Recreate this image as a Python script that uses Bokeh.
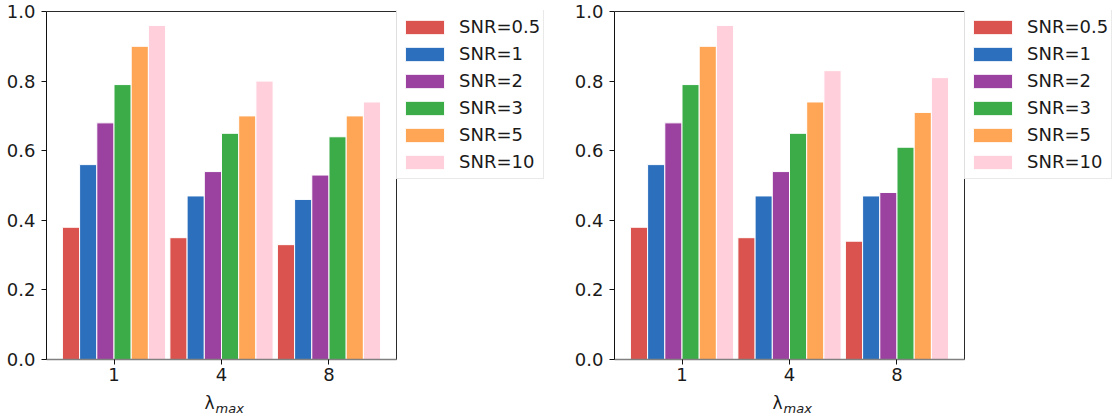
from bokeh.plotting import figure
from bokeh.layouts import row
from bokeh.models import (Range1d, FixedTicker, PrintfTickFormatter, Legend,
                          LegendItem, Label, BoxAnnotation)
from bokeh.embed import file_html
from bokeh.resources import INLINE

# lambda_max groups on the x axis
lambda_max = ["1", "4", "8"]

# one series per signal-to-noise ratio
snr_labels = ["SNR=0.5", "SNR=1", "SNR=2", "SNR=3", "SNR=5", "SNR=10"]
snr_colors = ["#da534e", "#2c6fbd", "#9b42a0", "#3bac48", "#ffa556", "#ffd0dc"]

# scores per SNR series, one value per lambda_max group
left_scores = [
    [0.38, 0.35, 0.33],
    [0.56, 0.47, 0.46],
    [0.68, 0.54, 0.53],
    [0.79, 0.65, 0.64],
    [0.90, 0.70, 0.70],
    [0.96, 0.80, 0.74],
]
right_scores = [
    [0.38, 0.35, 0.34],
    [0.56, 0.47, 0.47],
    [0.68, 0.54, 0.48],
    [0.79, 0.65, 0.61],
    [0.90, 0.74, 0.71],
    [0.96, 0.83, 0.81],
]

y_ticks = [0.0, 0.2, 0.4, 0.6, 0.8, 1.0]

BAR_W = 0.16
FONT = "DejaVu Sans"
TEXT_COLOR = "#1a1a1a"
FIG_W = 556
FIG_H = 419
AXES_W = 350           # pixels of the boxed axes area
AXES_H = 348           # pixels for the 0..1 score span
TOP = 10
BELOW = FIG_H - TOP - AXES_H - 1   # room under the axes for tick labels and title


def make_panel(scores, border_left):
    n = len(lambda_max)
    k = len(scores)
    lo = -k * BAR_W / 2
    hi = (n - 1) + k * BAR_W / 2
    pad = 0.05 * (hi - lo)
    x0, x1 = lo - pad, hi + pad
    px = AXES_W / (x1 - x0)
    frame_w = FIG_W - border_left
    x_end = x0 + frame_w / px

    p = figure(width=FIG_W, height=FIG_H,
               x_range=Range1d(x0, x_end),
               y_range=Range1d(-BELOW / AXES_H, 1 + 1 / AXES_H),
               output_backend="svg", toolbar_location=None,
               min_border_left=border_left, min_border_right=0,
               min_border_top=TOP, min_border_bottom=0)
    p.background_fill_color = "white"
    p.border_fill_color = "white"
    p.outline_line_color = None
    p.grid.visible = False

    # axes box spanning the plotted area
    p.add_layout(BoxAnnotation(left=x0, right=x1, bottom=0, top=1,
                               fill_color=None, line_color="#2a2a2a",
                               line_alpha=1, line_width=1, level="underlay"))

    items = []
    for i, (vals, lab, col) in enumerate(zip(scores, snr_labels, snr_colors)):
        xs = [g + lo + BAR_W * (i + 0.5) for g in range(n)]
        r = p.vbar(x=xs, top=vals, bottom=0, width=BAR_W,
                   fill_color=col, line_color="white", line_width=1)
        items.append(LegendItem(label=lab, renderers=[r]))

    # axes
    p.xaxis.fixed_location = 0
    p.xaxis.bounds = (x0, x1)
    p.xaxis.ticker = FixedTicker(ticks=list(range(n)))
    p.xaxis.major_label_overrides = {i: t for i, t in enumerate(lambda_max)}
    p.yaxis.ticker = FixedTicker(ticks=y_ticks)
    p.yaxis.formatter = PrintfTickFormatter(format="%.1f")
    p.yaxis.bounds = (0, 1)
    for ax in (p.xaxis, p.yaxis):
        ax.major_label_text_font = FONT
        ax.major_label_text_font_size = "18px"
        ax.major_label_text_color = TEXT_COLOR
        ax.major_tick_out = 5
        ax.major_tick_in = 0
        ax.minor_tick_line_color = None
        ax.major_tick_line_color = "#111111"
    p.yaxis.axis_line_color = "#111111"
    p.yaxis.major_label_standoff = 6
    p.xaxis.axis_line_color = "#808080"
    p.xaxis.axis_line_width = 1.6
    p.xaxis.major_label_standoff = 3

    # x axis title: lambda with a "max" subscript
    mid = (n - 1) / 2
    p.add_layout(Label(x=mid, y=17, x_units="data", y_units="screen",
                       text="λ", text_align="right", text_baseline="alphabetic",
                       x_offset=-7, text_font=FONT, text_font_size="17px",
                       text_color=TEXT_COLOR))
    p.add_layout(Label(x=mid, y=11, x_units="data", y_units="screen",
                       text="max", text_align="left", text_baseline="alphabetic",
                       x_offset=-6, text_font=FONT, text_font_style="italic",
                       text_font_size="13px", text_color=TEXT_COLOR))

    legend = Legend(items=items, location=(AXES_W, 240))
    legend.label_text_font = FONT
    legend.label_text_font_size = "18px"
    legend.label_text_color = TEXT_COLOR
    legend.glyph_width = 49
    legend.glyph_height = 18
    legend.label_height = 27
    legend.label_standoff = 10
    legend.spacing = 0
    legend.padding = 3
    legend.margin = 0
    legend.border_line_color = "#d4d4d4"
    legend.border_line_width = 1
    legend.background_fill_color = "white"
    legend.background_fill_alpha = 0.9
    p.add_layout(legend)
    return p


left = make_panel(left_scores, 46)
right = make_panel(right_scores, 58)

layout = row(left, right, spacing=0)
open("out.html", "w").write(file_html(layout, INLINE))
